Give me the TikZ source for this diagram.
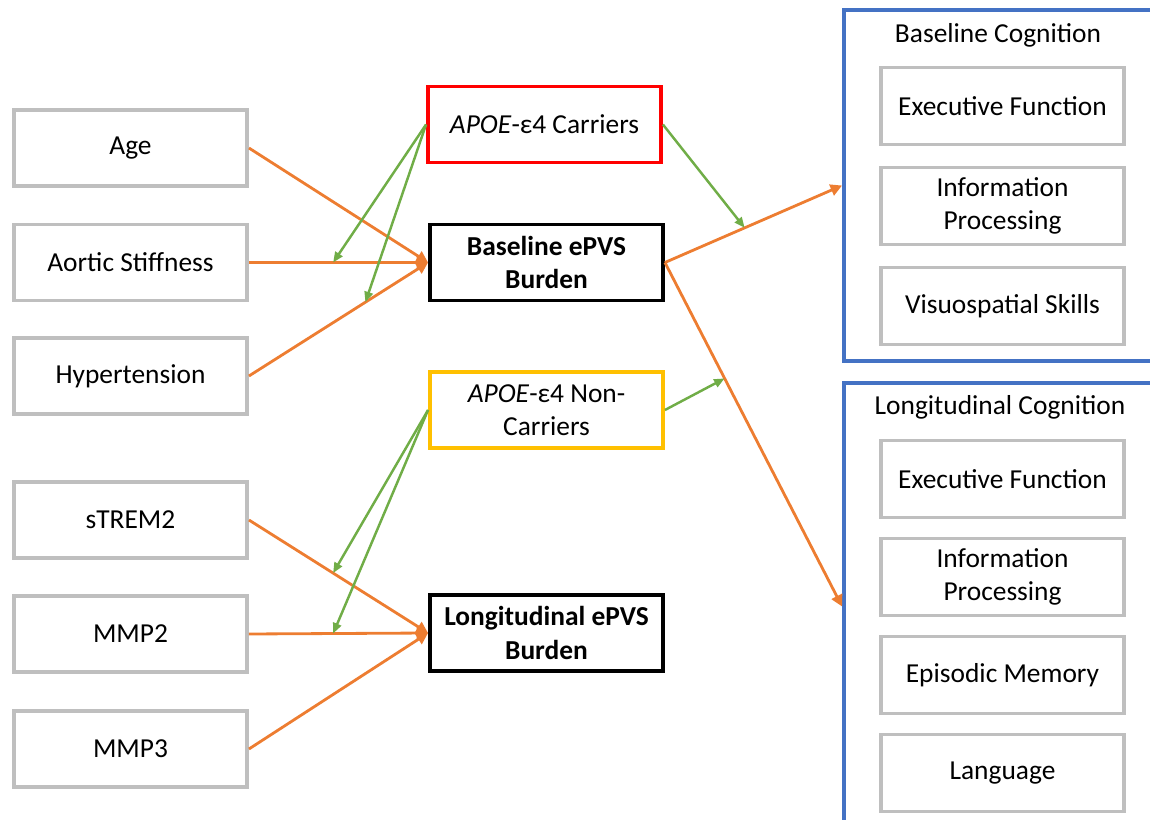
\documentclass[tikz,border=0pt]{standalone}
\usepackage{fontspec}
\setmainfont{Carlito}
\usetikzlibrary{arrows.meta, positioning}
\definecolor{pvsorange}{RGB}{237, 125, 49}
\definecolor{pvsgreen}{RGB}{112, 173, 71}
\definecolor{pvsgray}{RGB}{191, 191, 191}
\definecolor{pvsblue}{RGB}{68, 114, 196}
\definecolor{pvsred}{RGB}{255, 0, 0}
\definecolor{pvsyellow}{RGB}{255, 192, 0}

\begin{document}
\begin{tikzpicture}[
      factor/.style={rectangle, draw=pvsgray, line width=2.2pt, minimum width=4.66cm, minimum height=1.52cm, align=center, font=\fontsize{15.6}{19}\selectfont},
      burden/.style={factor, draw=black, font=\fontsize{15.6}{19}\selectfont\bfseries},
      outcome/.style={factor, minimum width=4.86cm, minimum height=1.54cm},
      group/.style={rectangle, draw=pvsblue, line width=2.2pt, minimum width=6.16cm},
      title/.style={font=\fontsize{15.6}{19}\selectfont},
      arr/.style={-{Triangle[length=2.3mm, width=2.3mm]}, line width=1.6pt, pvsorange},
      garr/.style={-{Triangle[length=2.1mm, width=1.7mm]}, line width=1.4pt, pvsgreen}
    ]
      \clip (0, 0) rectangle (23, -16.4);

      \node[factor] (age) at (2.61, -2.96) {Age};
      \node[factor] (aortic) at (2.61, -5.25) {Aortic Stiffness};
      \node[factor] (hyper) at (2.61, -7.52) {Hypertension};
      \node[factor] (strem) at (2.61, -10.4) {sTREM2};
      \node[factor] (mmp2) at (2.61, -12.68) {MMP2};
      \node[factor] (mmp3) at (2.61, -14.98) {MMP3};

      \node[factor, draw=pvsred] (carr) at (10.89, -2.49) {\textit{APOE}-ε4 Carriers};
      \node[burden] (base) at (10.93, -5.25) {Baseline ePVS\\Burden};
      \node[factor, draw=pvsyellow] (noncarr) at (10.93, -8.2) {\textit{APOE}-ε4 Non-\\Carriers};
      \node[burden] (longit) at (10.93, -12.66) {Longitudinal ePVS\\Burden};

      \node[group, minimum height=7.02cm] (bcog) at (19.96, -3.71) {};
      \node[group, minimum height=8.94cm] (lcog) at (19.96, -12.13) {};
      \node[title] (btitle) at (19.96, -0.7) {Baseline Cognition};
      \node[title] (ltitle) at (20.0, -8.14) {Longitudinal Cognition};

      \node[outcome] (bexec) at (20.05, -2.12) {Executive Function};
      \node[outcome] (binfo) at (20.05, -4.12) {Information\\Processing};
      \node[outcome] (bvisu) at (20.05, -6.12) {Visuospatial Skills};
      \node[outcome] (lexec) at (20.05, -9.58) {Executive Function};
      \node[outcome] (linfo) at (20.05, -11.54) {Information\\Processing};
      \node[outcome] (lepis) at (20.05, -13.5) {Episodic Memory};
      \node[outcome] (llang) at (20.05, -15.46) {Language};

      \draw[arr] (age.east) -- (base.west);
      \draw[arr] (aortic.east) -- coordinate[pos=0.47] (aortmid) (base.west);
      \draw[arr] (hyper.east) -- coordinate[pos=0.65] (hypmid) (base.west);
      \draw[arr] (base.east) -- coordinate[pos=0.45] (bcogmid) (bcog.west);
      \draw[arr] (base.east) -- coordinate[pos=0.337] (lcogmid) (lcog.west);
      \draw[arr] (strem.east) -- coordinate[pos=0.47] (stremmid) (longit.west);
      \draw[arr] (mmp2.east) -- coordinate[pos=0.47] (mmpmid) (longit.west);
      \draw[arr] (mmp3.east) -- (longit.west);

      \draw[garr] (carr.west) -- (aortmid);
      \draw[garr] (carr.west) -- (hypmid);
      \draw[garr] (carr.east) -- (bcogmid);
      \draw[garr] (noncarr.west) -- (stremmid);
      \draw[garr] (noncarr.west) -- (mmpmid);
      \draw[garr] (noncarr.east) -- (lcogmid);
    \end{tikzpicture}
\end{document}
